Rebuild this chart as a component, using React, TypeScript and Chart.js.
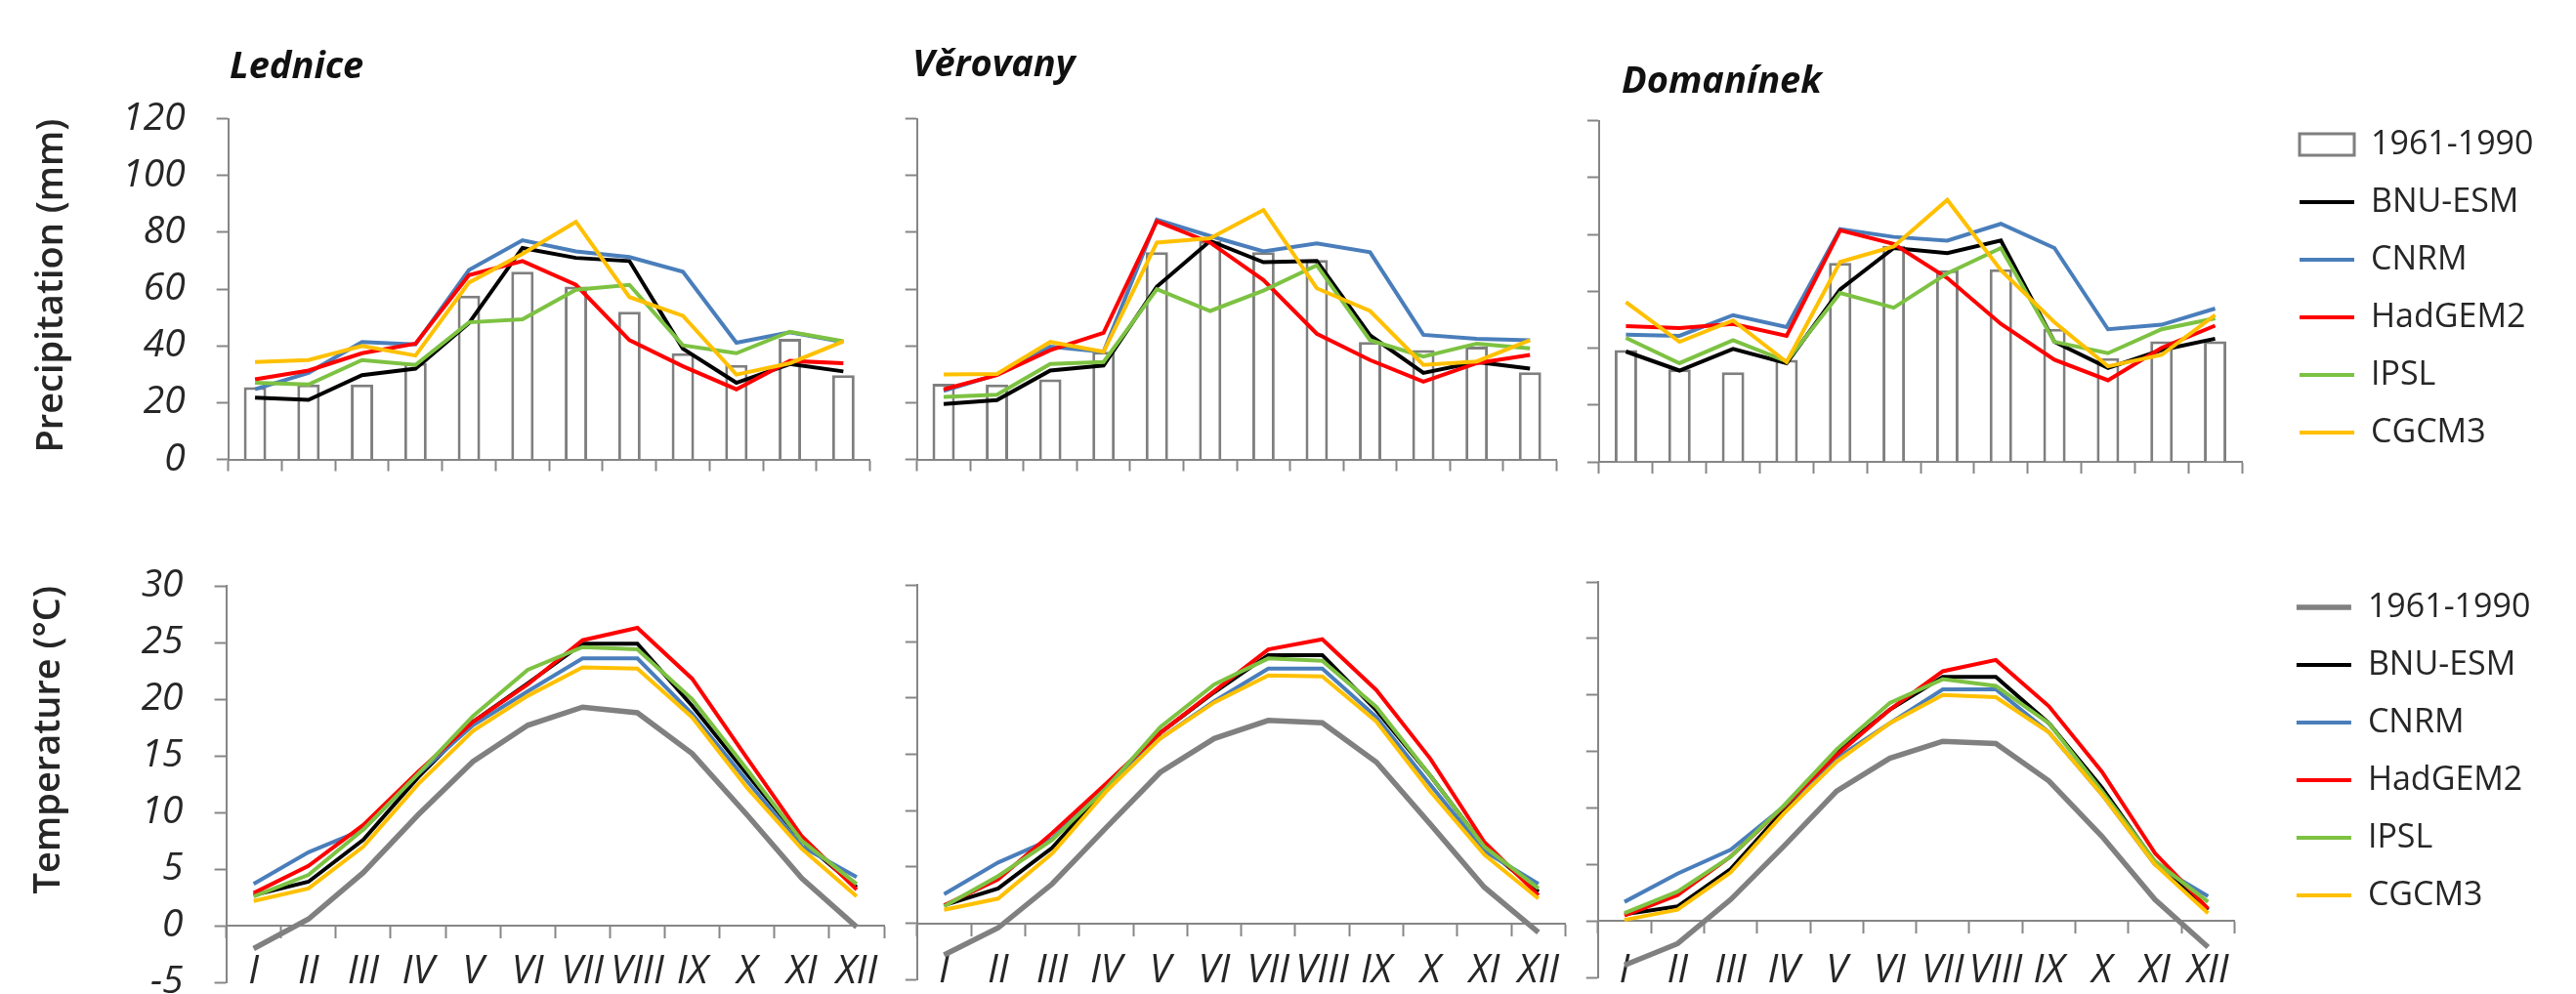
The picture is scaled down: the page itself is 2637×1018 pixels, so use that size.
import React, { useEffect, useRef } from 'react';
import { Chart, registerables } from 'chart.js';

Chart.register(...registerables);

// ---------------- data ----------------
const months = ['I', 'II', 'III', 'IV', 'V', 'VI', 'VII', 'VIII', 'IX', 'X', 'XI', 'XII'];
const seriesNames = ['1961-1990', 'BNU-ESM', 'CNRM', 'HadGEM2', 'IPSL', 'CGCM3'];
const stationNames = ['Lednice', 'Věrovany', 'Domanínek'];
const precipTicks = { min: 0, max: 120, step: 20 };
const tempTicks = { min: -5, max: 30, step: 5 };

// Precipitation (mm)
const ledP_obs = [25.5, 26.4, 26.4, 34, 57.7, 66.1, 60.9, 52, 37.4, 33.3, 42.5, 29.7];
const ledP_bnu = [21.8, 21, 29.7, 32, 48, 74.5, 71, 69.9, 39, 27, 33.6, 31];
const ledP_cnrm = [24.7, 30.5, 41.4, 40.5, 66.7, 77.2, 73.3, 71.3, 66.1, 41.1, 44.8, 41.4];
const ledP_had = [28.2, 31.3, 37.4, 40.8, 64.9, 69.9, 61.5, 42, 32.8, 24.7, 34.7, 33.9];
const ledP_ipsl = [27, 26.4, 35, 33.3, 48.3, 49.4, 59.8, 61.5, 40.2, 37.4, 45, 41.6];
const ledP_cgcm = [34.3, 35, 40, 36.6, 62.3, 72.4, 83.7, 57.2, 50.6, 29.9, 33.9, 41.6];

const verP_obs = [26.7, 26.4, 28.2, 37.9, 73, 77, 73, 70.3, 41.4, 38.5, 39.7, 30.7];
const verP_bnu = [19.5, 20.9, 31.3, 33.1, 60.9, 77, 69.5, 69.9, 43.7, 30.5, 34.3, 32];
const verP_cnrm = [24.1, 29.9, 39.7, 37.9, 84.5, 78.7, 73.3, 76.1, 73, 43.9, 42.5, 42];
const verP_had = [24.7, 29.7, 38.5, 44.6, 83.9, 76.4, 63.2, 44.3, 35, 27.4, 33.9, 36.8];
const verP_ipsl = [22, 22.8, 33.6, 34.3, 60, 52.3, 59.5, 68.4, 42, 36.2, 40.8, 39.1];
const verP_cgcm = [29.9, 30.1, 41.4, 37.9, 76.4, 77.9, 87.9, 60.3, 52.3, 33.3, 34.5, 42];

const domP_obs = [39.3, 32.5, 31.5, 35.9, 70, 76, 67.4, 67.7, 46.8, 36.5, 42.4, 42.4];
const domP_bnu = [38.8, 32.1, 39.7, 34.7, 60.6, 75.2, 73.4, 77.8, 42.2, 33, 39.3, 43.3];
const domP_cnrm = [44.7, 44.3, 51.6, 47.4, 81.8, 79.1, 77.8, 83.7, 75.2, 46.6, 48.2, 53.9];
const domP_had = [47.7, 47, 48.5, 44.3, 81.4, 76.6, 64.6, 48.5, 35.9, 28.7, 40.1, 47.9];
const domP_ipsl = [43.6, 34.7, 42.8, 35.3, 59.4, 54.2, 66.3, 75.2, 42.2, 38.2, 46.6, 50.5];
const domP_cgcm = [56.2, 42.2, 49.7, 35.1, 70.3, 75.7, 92.1, 67.4, 49.1, 33.6, 37.6, 51.6];

// Temperature (°C)
const ledT_obs = [-2.0, 0.6, 4.7, 9.8, 14.5, 17.7, 19.3, 18.8, 15.2, 9.8, 4.2, -0.1];
const ledT_bnu = [2.7, 3.9, 7.6, 13.1, 18, 21.4, 24.9, 24.9, 19.4, 13.4, 7.5, 3.4];
const ledT_cnrm = [3.7, 6.5, 8.5, 13.4, 17.7, 20.7, 23.6, 23.6, 18.7, 12.8, 7, 4.3];
const ledT_had = [2.9, 5.3, 8.9, 13.6, 18, 21.3, 25.2, 26.3, 21.8, 14.8, 7.9, 3.2];
const ledT_ipsl = [2.6, 4.5, 8.5, 13.4, 18.5, 22.6, 24.6, 24.4, 20, 13.8, 7.5, 3.7];
const ledT_cgcm = [2.2, 3.3, 7, 12.5, 17.2, 20.3, 22.8, 22.7, 18.4, 12.2, 6.8, 2.6];

const verT_obs = [-2.8, -0.4, 3.5, 8.5, 13.4, 16.4, 18, 17.8, 14.3, 8.8, 3.2, -0.8];
const verT_bnu = [1.6, 3.1, 6.7, 12, 16.9, 20.5, 23.8, 23.8, 18.9, 13.1, 6.8, 2.8];
const verT_cnrm = [2.6, 5.4, 7.5, 12.3, 16.4, 19.7, 22.6, 22.6, 18.3, 12.3, 6.4, 3.5];
const verT_had = [1.6, 3.9, 8, 12.4, 16.9, 20.6, 24.3, 25.2, 20.7, 14.6, 7.2, 2.5];
const verT_ipsl = [1.5, 4.2, 7.4, 12, 17.4, 21.2, 23.5, 23.3, 19.2, 13.1, 6.8, 3.1];
const verT_cgcm = [1.2, 2.2, 6.2, 11.7, 16.4, 19.6, 22, 21.9, 17.9, 11.7, 6.1, 2.2];

const domT_obs = [-3.9, -2, 1.9, 6.6, 11.5, 14.4, 15.9, 15.7, 12.4, 7.5, 1.9, -2.3];
const domT_bnu = [0.6, 1.3, 4.6, 9.8, 14.9, 18.7, 21.6, 21.6, 17.5, 11.8, 5.2, 1.0];
const domT_cnrm = [1.7, 4.2, 6.3, 10.1, 14.4, 17.5, 20.5, 20.5, 16.7, 11.2, 5, 2.2];
const domT_had = [0.5, 2.3, 5.7, 10.1, 14.7, 18.7, 22.1, 23.1, 19, 13.2, 6, 1.1];
const domT_ipsl = [0.7, 2.6, 5.7, 10.2, 15.2, 19.3, 21.4, 20.8, 17.5, 11.5, 5.3, 1.7];
const domT_cgcm = [0.1, 1, 4.3, 9.5, 14.1, 17.5, 20, 19.8, 16.7, 11.2, 5, 0.7];

// ---------------- styling ----------------
const AXIS = '#868686';
const TEXT = '#262626';
const COLORS = ['#808080', '#000000', '#4a7ebb', '#ff0000', '#7dc242', '#ffc000'];
const FONT = 'Open Sans';

type Spec = {
  kind: 'precip' | 'temp';
  left: number; top: number; width: number; height: number;
  pad: { left: number; right: number; top: number; bottom: number };
  yWidth: number;
  yTicks: boolean;
  yTitle?: { text: string; pad: number };
  legend?: { align: 'start' | 'end'; dummyRight: number };
  topSpacer?: number;
  labelPad?: number;
  series: number[][];
};

// lets the legend text run past the (narrow) legend box instead of being clipped
const legendUnclip = {
  id: 'legendUnclip',
  beforeDraw(chart: any) {
    const l = chart.legend;
    if (l && l.options && l.options.display) {
      l.right = chart.width;
      l.width = l.right - l.left;
    }
  },
};

function buildConfig(s: Spec): any {
  const lineDs = (i: number, width: number) => ({
    type: 'line',
    label: seriesNames[i],
    data: s.series[i],
    borderColor: COLORS[i],
    backgroundColor: COLORS[i],
    borderWidth: width,
    pointBorderWidth: width,
    pointBorderColor: COLORS[i],
    pointBackgroundColor: COLORS[i],
    pointRadius: 0,
    pointHoverRadius: 0,
    pointStyle: 'line',
    tension: 0,
    fill: false,
    order: 10 - i,
    xAxisID: 'x',
    yAxisID: 'y',
  });
  const datasets: any[] = [];
  if (s.kind === 'precip') {
    datasets.push({
      type: 'bar',
      label: seriesNames[0],
      data: s.series[0],
      backgroundColor: '#ffffff',
      borderColor: '#7f7f7f',
      borderWidth: 3,
      barPercentage: 0.42,
      categoryPercentage: 1,
      pointStyle: 'rect',
      order: 10,
      xAxisID: 'x',
      yAxisID: 'y',
    });
  } else {
    datasets.push(lineDs(0, 5.5));
  }
  for (let i = 1; i < 6; i++) datasets.push(lineDs(i, 4));

  const range = s.kind === 'precip' ? precipTicks : tempTicks;
  const scales: any = {
    x: {
      type: 'category',
      offset: true,
      position: s.kind === 'temp' ? { y: 0 } : 'bottom',
      grid: {
        display: true, drawOnChartArea: false, drawTicks: true,
        tickLength: 12, tickWidth: 2, tickColor: AXIS, offset: true,
      },
      border: { display: true, color: AXIS, width: 2 },
      ticks: s.kind === 'temp'
        ? {
            display: true, padding: s.labelPad ?? 12, autoSkip: false, maxRotation: 0, minRotation: 0,
            color: TEXT, font: { family: FONT, style: 'italic', size: 40 },
          }
        : { display: false, padding: 0 },
      afterFit: s.kind === 'precip' ? (sc: any) => { sc.height = 12; } : undefined,
    },
    y: {
      type: 'linear',
      position: 'left',
      min: range.min,
      max: range.max,
      ticks: {
        stepSize: range.step,
        display: s.yTicks,
        padding: s.yTicks ? 32 : 0,
        color: TEXT,
        font: { family: FONT, style: 'italic', size: 39 },
      },
      grid: {
        display: true, drawOnChartArea: false, drawTicks: true,
        tickLength: 12, tickWidth: 2, tickColor: AXIS,
      },
      border: { display: true, color: AXIS, width: 2 },
      title: s.yTitle
        ? {
            display: true, text: s.yTitle.text, align: 'end', color: '#262626',
            font: { family: FONT, size: 38, weight: '600' },
            padding: { top: s.yTitle.pad, bottom: 0 },
          }
        : { display: false },
      afterFit: (sc: any) => { sc.width = s.yWidth; },
    },
  };
  if (s.topSpacer) {
    scales.xt = {
      type: 'linear', position: 'top', display: true,
      grid: { display: false }, border: { display: false }, ticks: { display: false },
      afterFit: (sc: any) => { sc.height = s.topSpacer; },
    };
  }
  if (s.legend) {
    const dw = s.legend.dummyRight;
    scales.yr = {
      type: 'linear', position: 'right', display: true,
      grid: { display: false }, border: { display: false }, ticks: { display: false },
      afterFit: (sc: any) => { sc.width = dw; },
    };
  }

  return {
    type: s.kind === 'precip' ? 'bar' : 'line',
    data: { labels: months, datasets },
    plugins: [legendUnclip],
    options: {
      responsive: false,
      maintainAspectRatio: false,
      animation: false,
      devicePixelRatio: 1,
      events: [],
      layout: { padding: s.pad },
      scales,
      plugins: {
        title: { display: false },
        tooltip: { enabled: false },
        legend: s.legend
          ? {
              display: true,
              position: 'right',
              align: s.legend.align,
              fullSize: true,
              labels: {
                usePointStyle: true,
                pointStyleWidth: 56,
                boxHeight: 22,
                padding: 25,
                color: TEXT,
                font: { family: FONT, size: 34 },
                sort: (a: any, b: any) => a.datasetIndex - b.datasetIndex,
              },
            }
          : { display: false },
      },
    },
  };
}

const specs: Spec[] = [
  {
    kind: 'precip', left: 0, top: 0, width: 911, height: 528,
    pad: { left: 0, right: 20.3, top: 121.7, bottom: 45.5 },
    yWidth: 233.7, yTicks: true, yTitle: { text: 'Precipitation (mm)', pad: 30 },
    series: [ledP_obs, ledP_bnu, ledP_cnrm, ledP_had, ledP_ipsl, ledP_cgcm],
  },
  {
    kind: 'precip', left: 926, top: 0, width: 688, height: 528,
    pad: { left: 0.7, right: 20.5, top: 121.7, bottom: 45.5 },
    yWidth: 12, yTicks: false,
    series: [verP_obs, verP_bnu, verP_cnrm, verP_had, verP_ipsl, verP_cgcm],
  },
  {
    kind: 'precip', left: 1625, top: 0, width: 1005, height: 530,
    pad: { left: 0, right: 160.2, top: 60, bottom: 45 },
    yWidth: 12, yTicks: false, topSpacer: 63.5,
    legend: { align: 'end', dummyRight: 34 },
    series: [domP_obs, domP_bnu, domP_cnrm, domP_had, domP_ipsl, domP_cgcm],
  },
  {
    kind: 'temp', left: 0, top: 540, width: 925, height: 530,
    pad: { left: 0, right: 20, top: 60, bottom: 63.7 },
    yWidth: 231.6, yTicks: true, yTitle: { text: 'Temperature (°C)', pad: 27 }, labelPad: 11,
    series: [ledT_obs, ledT_bnu, ledT_cnrm, ledT_had, ledT_ipsl, ledT_cgcm],
  },
  {
    kind: 'temp', left: 926, top: 540, width: 697, height: 524,
    pad: { left: 0.8, right: 20.5, top: 59.3, bottom: 60.6 },
    yWidth: 12, yTicks: false, labelPad: 13,
    series: [verT_obs, verT_bnu, verT_cnrm, verT_had, verT_ipsl, verT_cgcm],
  },
  {
    kind: 'temp', left: 1623, top: 540, width: 1005, height: 520,
    pad: { left: 0.8, right: 161.68, top: 40, bottom: 58.8 },
    yWidth: 12, yTicks: false, topSpacer: 16, labelPad: 15,
    legend: { align: 'start', dummyRight: 38.4 },
    series: [domT_obs, domT_bnu, domT_cnrm, domT_had, domT_ipsl, domT_cgcm],
  },
];

const titlePos = [
  { left: 235, top: 46 },
  { left: 934, top: 44 },
  { left: 1660, top: 61 },
];

function Panel({ spec }: { spec: Spec }) {
  const ref = useRef<HTMLCanvasElement>(null);
  useEffect(() => {
    if (!ref.current) return;
    const chart = new Chart(ref.current, buildConfig(spec));
    return () => chart.destroy();
  }, [spec]);
  return (
    <canvas
      ref={ref}
      width={spec.width}
      height={spec.height}
      style={{ position: 'absolute', left: spec.left, top: spec.top, width: spec.width, height: spec.height }}
    />
  );
}

export default function App() {
  return (
    <div
      style={{
        position: 'absolute', left: 0, top: 0, width: 2637, height: 1018,
        overflow: 'hidden', background: '#ffffff',
      }}
    >
      {specs.map((s, i) => (
        <Panel key={i} spec={s} />
      ))}
      {stationNames.map((n, i) => (
        <div
          key={n}
          style={{
            position: 'absolute', left: titlePos[i].left, top: titlePos[i].top,
            fontFamily: FONT, fontWeight: 700, fontStyle: 'italic', fontSize: 38,
            lineHeight: '38px', color: '#111111', whiteSpace: 'nowrap',
          }}
        >
          {n}
        </div>
      ))}
    </div>
  );
}
